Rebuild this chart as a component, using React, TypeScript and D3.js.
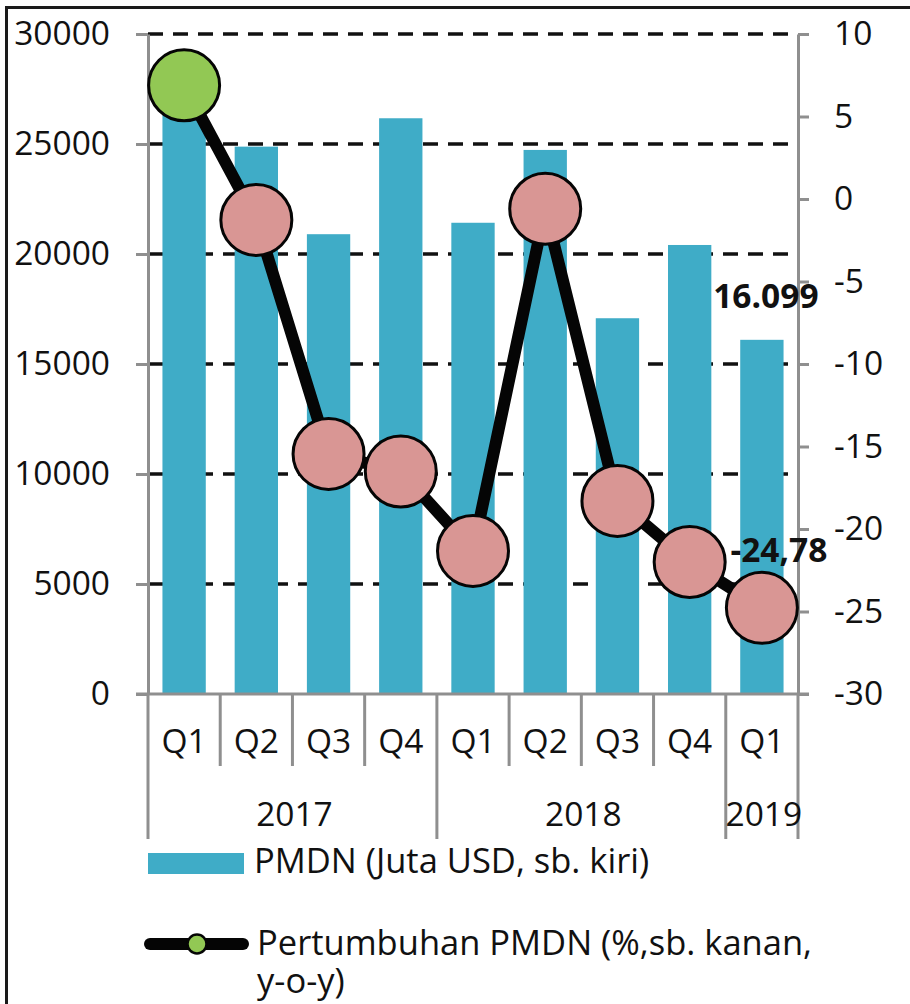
import React, { useEffect, useRef } from "react";
import * as d3 from "d3";

// data
const quarters = ["Q1", "Q2", "Q3", "Q4", "Q1", "Q2", "Q3", "Q4", "Q1"];
const years = ["2017", "2018", "2019"];
const yearSpans = [4, 4, 1];
const pmdn = [27400, 24880, 20900, 26170, 21420, 24730, 17080, 20410, 16099];
const growth = [6.89, -1.27, -15.45, -16.52, -21.33, -0.59, -18.3, -22.0, -24.78];
const leftTicks = [0, 5000, 10000, 15000, 20000, 25000, 30000];
const rightTicks = [-30, -25, -20, -15, -10, -5, 0, 5, 10];

const App = () => {
  const ref = useRef<SVGSVGElement>(null);

  useEffect(() => {
    const svg = d3.select(ref.current);
    svg.selectAll("*").remove();

    const width = 910;
    const height = 1004;
    const left = 148, right = 798, top = 34, bottom = 694;
    const font = "'Open Sans', sans-serif";
    const grey = "#8f8f8f";
    const fs = 33.5;
    const legendFs = 34.5;

    svg.attr("width", width).attr("height", height);

    // frame
    svg.append("rect")
      .attr("x", 6.5).attr("y", 7.5)
      .attr("width", width + 20).attr("height", height + 20)
      .attr("fill", "white")
      .attr("stroke", "#1a1a1a")
      .attr("stroke-width", 3);

    const x = d3.scaleBand<number>()
      .domain(d3.range(quarters.length))
      .range([left, right])
      .paddingInner(0.4)
      .paddingOuter(0.2);
    const step = x.step();
    const yL = d3.scaleLinear().domain([0, 30000]).range([bottom, top]);
    const yR = d3.scaleLinear().domain([-30, 10]).range([bottom, top]);

    // dashed grid
    svg.append("g")
      .selectAll("line")
      .data(leftTicks.filter(d => d > 0))
      .enter()
      .append("line")
      .attr("x1", left).attr("x2", right)
      .attr("y1", d => yL(d)).attr("y2", d => yL(d))
      .attr("stroke", "#111")
      .attr("stroke-width", 3.5)
      .attr("stroke-dasharray", "15 10");

    // bars
    svg.append("g")
      .selectAll("rect")
      .data(pmdn)
      .enter()
      .append("rect")
      .attr("x", (d, i) => x(i)!)
      .attr("width", x.bandwidth())
      .attr("y", d => yL(d))
      .attr("height", d => yL(0) - yL(d))
      .attr("fill", "#3FACC7");

    // left axis
    const gl = svg.append("g")
      .attr("transform", `translate(${left},0)`)
      .call(d3.axisLeft(yL).tickValues(leftTicks).tickSize(12).tickSizeOuter(0).tickPadding(26).tickFormat(d3.format("d")));
    // right axis
    const gr = svg.append("g")
      .attr("transform", `translate(${right},0)`)
      .call(d3.axisRight(yR).tickValues(rightTicks).tickSize(11).tickSizeOuter(0).tickPadding(25).tickFormat(d3.format("d")));
    [gl, gr].forEach(g => {
      g.select(".domain").attr("stroke", grey).attr("stroke-width", 3);
      g.selectAll(".tick line").attr("stroke", grey).attr("stroke-width", 3);
      g.selectAll(".tick text")
        .attr("fill", "#111")
        .style("font-family", font)
        .style("font-size", fs + "px");
    });
    gr.selectAll(".tick text").text(d => d3.format("d")(d as number).replace("−", "-"));

    // category axis
    const cat = svg.append("g");
    cat.append("line")
      .attr("x1", left - 12).attr("x2", right + 11)
      .attr("y1", bottom).attr("y2", bottom)
      .attr("stroke", grey).attr("stroke-width", 3);
    const bounds = d3.range(quarters.length + 1);
    let acc = 0;
    const yearBounds = [0, ...yearSpans.map(s => (acc += s))];
    cat.selectAll("line.sep")
      .data(bounds)
      .enter()
      .append("line")
      .attr("class", "sep")
      .attr("x1", i => left + i * step).attr("x2", i => left + i * step)
      .attr("y1", bottom)
      .attr("y2", i => (yearBounds.includes(i) ? 839 : 766))
      .attr("stroke", grey).attr("stroke-width", 3);
    cat.selectAll("text.q")
      .data(quarters)
      .enter()
      .append("text")
      .attr("class", "q")
      .attr("x", (d, i) => x(i)! + x.bandwidth() / 2)
      .attr("y", 753)
      .attr("text-anchor", "middle")
      .style("font-family", font)
      .style("font-size", fs + "px")
      .attr("fill", "#111")
      .text(d => d);
    cat.selectAll("text.yr")
      .data(years)
      .enter()
      .append("text")
      .attr("class", "yr")
      .attr("x", (d, i) => left + ((yearBounds[i] + yearBounds[i + 1]) / 2) * step + 2)
      .attr("y", 826)
      .attr("text-anchor", "middle")
      .style("font-family", font)
      .style("font-size", fs + "px")
      .attr("fill", "#111")
      .text(d => d);

    // growth line
    const cx = (i: number) => x(i)! + x.bandwidth() / 2;
    const lineGen = d3.line<number>()
      .x((d, i) => cx(i))
      .y(d => yR(d));
    svg.append("path")
      .datum(growth)
      .attr("d", lineGen)
      .attr("fill", "none")
      .attr("stroke", "#050505")
      .attr("stroke-width", 12)
      .attr("stroke-linejoin", "round");
    svg.append("g")
      .selectAll("circle")
      .data(growth)
      .enter()
      .append("circle")
      .attr("cx", (d, i) => cx(i))
      .attr("cy", d => yR(d))
      .attr("r", 35.5)
      .attr("fill", (d, i) => (i === 0 ? "#92C854" : "#D99694"))
      .attr("stroke", "#050505")
      .attr("stroke-width", 3);

    // data labels
    const last = pmdn.length - 1;
    svg.append("text")
      .attr("x", cx(last) + 4)
      .attr("y", yL(pmdn[last]) - 32)
      .attr("text-anchor", "middle")
      .style("font-family", font)
      .style("font-size", fs + "px")
      .style("font-weight", "bold")
      .attr("fill", "#111")
      .text(d3.format(",")(pmdn[last]).replace(",", "."));
    svg.append("text")
      .attr("x", cx(last) + 17)
      .attr("y", yR(growth[last]) - 46)
      .attr("text-anchor", "middle")
      .style("font-family", font)
      .style("font-size", fs + "px")
      .style("font-weight", "bold")
      .attr("fill", "#111")
      .text(String(growth[last]).replace(".", ","));

    // legend
    const lg = svg.append("g");
    lg.append("rect")
      .attr("x", 148).attr("y", 853)
      .attr("width", 96).attr("height", 21)
      .attr("fill", "#3FACC7");
    lg.append("text")
      .attr("x", 254).attr("y", 873)
      .style("font-family", font)
      .style("font-size", legendFs + "px")
      .attr("fill", "#111")
      .text("PMDN (Juta USD, sb. kiri)");
    lg.append("line")
      .attr("x1", 150).attr("x2", 243)
      .attr("y1", 944).attr("y2", 944)
      .attr("stroke", "#050505")
      .attr("stroke-width", 12)
      .attr("stroke-linecap", "round");
    lg.append("circle")
      .attr("cx", 197).attr("cy", 944)
      .attr("r", 9.5)
      .attr("fill", "#92C854")
      .attr("stroke", "#050505")
      .attr("stroke-width", 2.5);
    const lt = lg.append("text")
      .style("font-family", font)
      .style("font-size", legendFs + "px")
      .attr("fill", "#111");
    lt.append("tspan").attr("x", 257).attr("y", 955).text("Pertumbuhan PMDN (%,sb. kanan,");
    lt.append("tspan").attr("x", 257).attr("y", 993).text("y-o-y)");
  }, []);

  return (
    <div style={{ position: "absolute", left: 0, top: 0 }}>
      <svg ref={ref} style={{ display: "block" }}></svg>
    </div>
  );
};

export default App;
